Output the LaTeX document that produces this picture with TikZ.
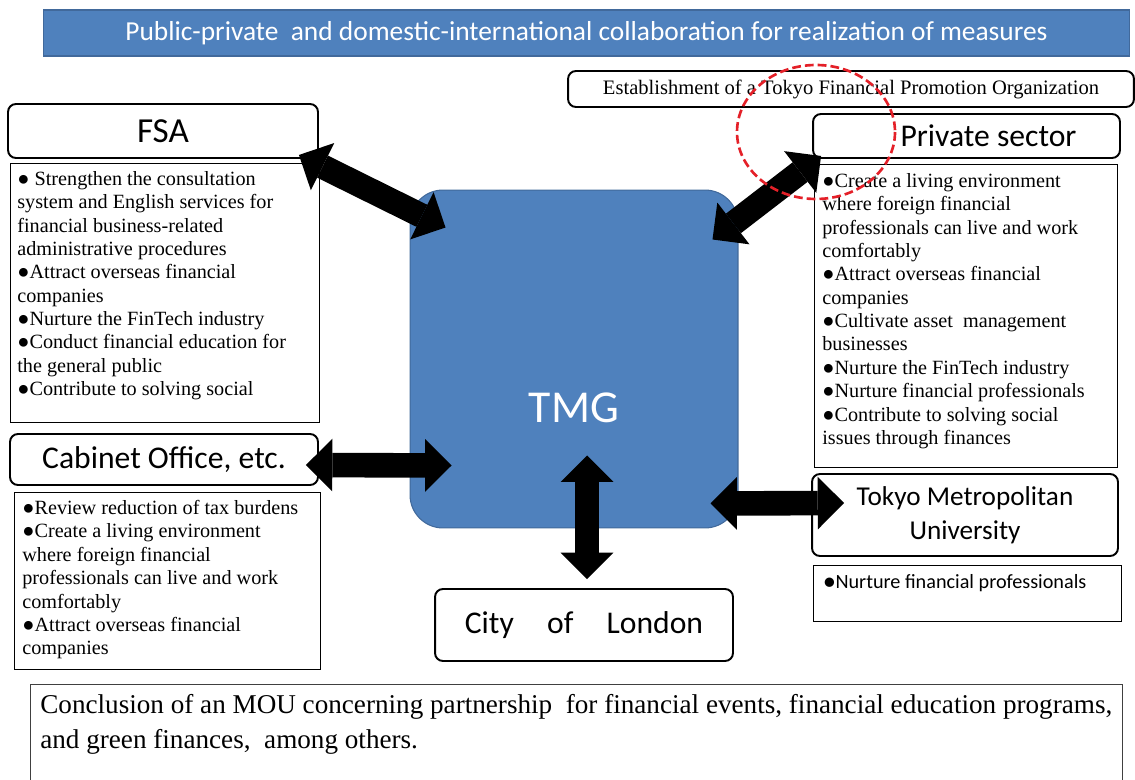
\documentclass[tikz,border=0pt]{standalone}
\usepackage{fontspec}
\setmainfont{Liberation Serif}
\newfontfamily\calibri{Carlito}
\usetikzlibrary{arrows.meta}
\definecolor{barblue}{RGB}{79, 129, 189}
\definecolor{barline}{RGB}{65, 105, 155}
\definecolor{ringred}{RGB}{228, 32, 40}
\newcommand{\bul}{●}

\tikzset{
  head/.style={draw, rounded corners=4.5pt, line width=1.1pt, fill=white, align=center,
    font=\calibri\fontsize{18}{21}\selectfont},
  listbox/.style={draw, line width=0.7pt, fill=white, anchor=north west},
  items/.style={anchor=north west, inner sep=0pt, align=left,
    font=\fontsize{11.5}{13.3}\selectfont},
  link/.style={line width=14pt,
    {Triangle[width=30pt, length=15pt, line width=0pt]}-{Triangle[width=30pt, length=15pt, line width=0pt]}}
}

\begin{document}
\begin{tikzpicture}[x=0.02cm, y=-0.02cm]
  \useasboundingbox (0,0) rectangle (1135,780);
  \fill [white] (0,0) rectangle (1135,780);

  % Banner
  \node (banner) at (586.5,33) [fill=barblue, draw=barline, line width=0.6pt, minimum width=21.74cm,
    minimum height=0.92cm, text=white, font=\calibri\fontsize{15.6}{18}\selectfont]
    {Public-private\ \ and domestic-international collaboration for realization of measures};

  \node (estab) at (851,89) [head, minimum width=11.32cm, minimum height=0.72cm,
    font=\fontsize{11.7}{13}\selectfont] {Establishment of a Tokyo Financial Promotion Organization};

  % TMG in the middle
  \node (tmg) at (574,359) [fill=barblue, draw=barline, line width=0.6pt, rounded corners=0.66cm,
    minimum width=6.56cm, minimum height=6.76cm] {};
  \node (tmglabel) at (574,408) [text=white, font=\calibri\fontsize{26}{30}\selectfont] {TMG};

  % Left side
  \node (fsa) at (163,131) [head, minimum width=6.2cm, minimum height=1.08cm,
    font=\calibri\fontsize{20}{24}\selectfont] {FSA};
  \node (fsalist) at (10,163) [listbox, minimum width=6.18cm, minimum height=5.18cm] {};
  \node (fsaitems) at (17,171) [items] {\bul\ Strengthen the consultation\\
    system and English services for\\financial business-related\\administrative procedures\\
    \bul Attract overseas financial\\companies\\\bul Nurture the FinTech industry\\
    \bul Conduct financial education for\\the general public\\\bul Contribute to solving social};

  \node (cab) at (164,459.5) [head, minimum width=6.16cm, minimum height=1.02cm] {Cabinet Office, etc.};
  \node (cablist) at (14,492) [listbox, minimum width=6.12cm, minimum height=3.54cm] {};
  \node (cabitems) at (22,500) [items] {\bul Review reduction of tax burdens\\
    \bul Create a living environment\\where foreign financial\\
    professionals can live and work\\comfortably\\\bul Attract overseas financial\\companies};

  % Right side
  \node (priv) at (966.5,136) [head, minimum width=6.14cm, minimum height=0.88cm]
    {\hspace*{0.88cm}Private sector};
  \node (privlist) at (814,164) [listbox, minimum width=6.06cm, minimum height=6.06cm] {};
  \node (privitems) at (822,173) [items] {\bul Create a living environment\\where foreign financial\\
    professionals can live and work\\comfortably\\\bul Attract overseas financial\\companies\\
    \bul Cultivate asset\ \ management\\businesses\\\bul Nurture the FinTech industry\\
    \bul Nurture financial professionals\\\bul Contribute to solving social\\issues through finances};

  \node (tmu) at (965,515) [head, minimum width=6.12cm, minimum height=1.64cm,
    font=\calibri\fontsize{15.5}{19.3}\selectfont] {Tokyo Metropolitan\\University};
  \node (tmulist) at (813,565) [listbox, minimum width=6.16cm, minimum height=1.12cm] {};
  \node (tmuitems) at (823,574) [items, font=\calibri\fontsize{11.5}{13.3}\selectfont]
    {\bul Nurture financial professionals};

  % Bottom
  \node (city) at (584,625) [head, minimum width=5.96cm, minimum height=1.44cm]
    {City\hspace{1.05em}of\hspace{1.05em}London};
  \node (mou) at (30,684) [listbox, draw=black!75, line width=0.6pt, minimum width=21.84cm,
    minimum height=2.6cm] {};
  \node (mouitems) at (40,694) [items, font=\fontsize{15.45}{19.8}\selectfont]
    {Conclusion of an MOU concerning partnership\ \ for financial events, financial education programs,\\
    and green finances,\ \ among others.};

  % Links
  \draw [link] ([shift={(-20,-4)}]fsa.south east) -- ([shift={(36,38)}]tmg.north west);
  \draw [link] ([shift={(9,-3)}]priv.south west) -- ([shift={(-26,50)}]tmg.north east);
  \draw [link] ([shift={(-13,5.5)}]cab.east) -- ([shift={(42,-63)}]tmg.south west);
  \draw [link] ([shift={(13,-73)}]tmg.south) -- ([shift={(3,-9)}]city.north);
  \draw [link] ([shift={(-28,-25)}]tmg.south east) -- ([shift={(33,-12)}]tmu.west);

  % Ring
  \draw [ringred, line width=1.5pt, dash pattern=on 5pt off 2.3pt] (816,132) ellipse [x radius=79, y radius=67];
\end{tikzpicture}
\end{document}
